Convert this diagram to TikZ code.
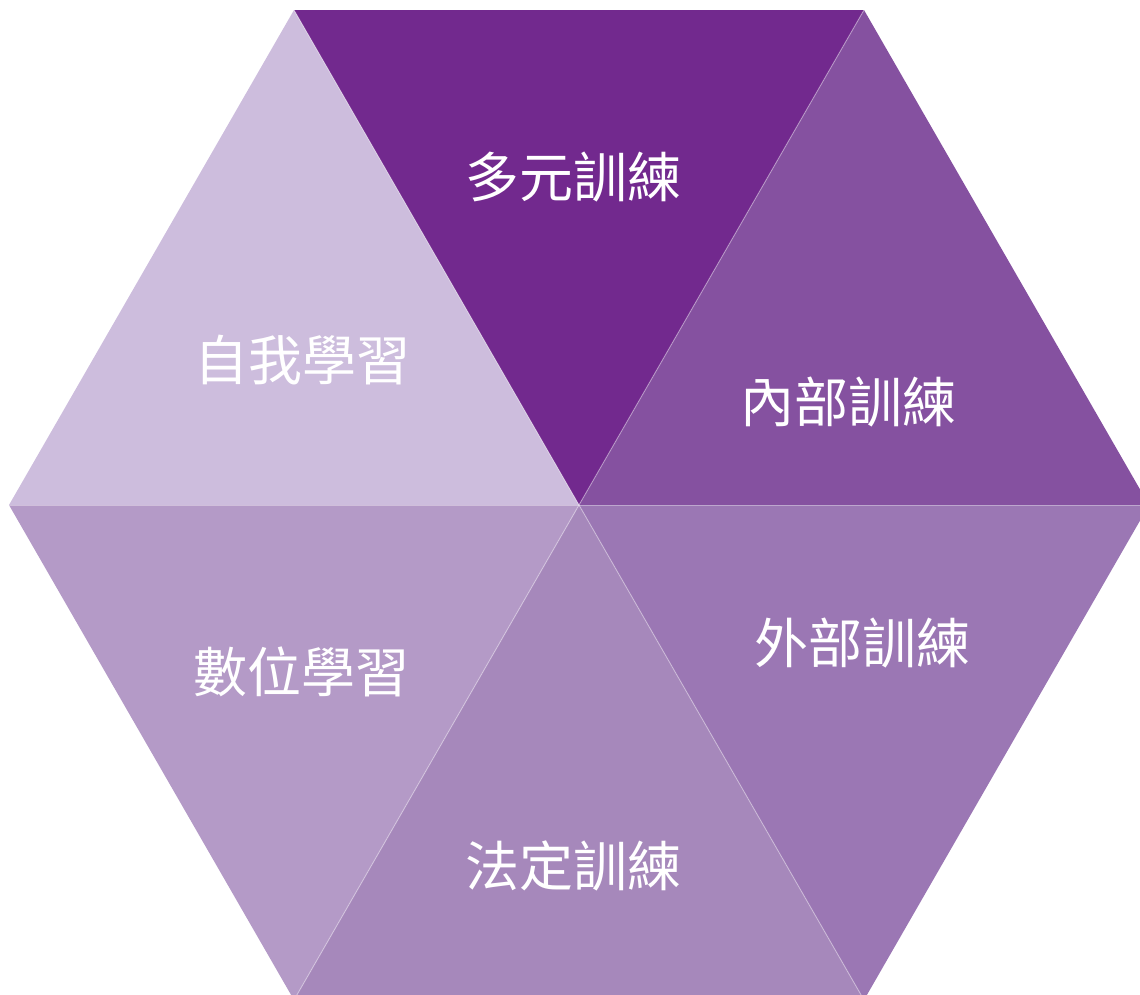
\documentclass[tikz,border=0pt]{standalone}
\usepackage{fontspec}
\newfontfamily\cjk{Noto Sans CJK TC}
\definecolor{cA}{HTML}{72298E}
\definecolor{cB}{HTML}{8551A0}
\definecolor{cC}{HTML}{9B77B4}
\definecolor{cD}{HTML}{A688BB}
\definecolor{cE}{HTML}{B49AC7}
\definecolor{cF}{HTML}{CDBDDD}
\begin{document}
\begin{tikzpicture}[x=1pt,y=-1pt,
  lbl/.style={text=white,font=\cjk\fontsize{54}{60}\selectfont,inner sep=0pt},
  seam/.style={draw=white,draw opacity=0.35,line width=1pt}]
\useasboundingbox (0,0) rectangle (1140,994);
\clip (0,0) rectangle (1140,994);
\coordinate (O) at (579,505);
\coordinate (P1) at (294,10);
\coordinate (P2) at (864,10);
\coordinate (P3) at (1149,505);
\coordinate (P4) at (864,1000);
\coordinate (P5) at (294,1000);
\coordinate (P6) at (9,505);
\fill[cA] (O) -- (P1) -- (P2) -- cycle;
\fill[cB] (O) -- (P2) -- (P3) -- cycle;
\fill[cC] (O) -- (P3) -- (P4) -- cycle;
\fill[cD] (O) -- (P4) -- (P5) -- cycle;
\fill[cE] (O) -- (P5) -- (P6) -- cycle;
\fill[cF] (O) -- (P6) -- (P1) -- cycle;
\foreach \p in {P1,P2,P3,P4,P5,P6} \draw[seam] (O) -- (\p);
\node[lbl] (t1) at (573,177) {多元訓練};
\node[lbl] (t2) at (848,402) {內部訓練};
\node[lbl] (t3) at (862,643) {外部訓練};
\node[lbl] (t4) at (573,866) {法定訓練};
\node[lbl] (t5) at (301,672) {數位學習};
\node[lbl] (t6) at (302,360) {自我學習};
\end{tikzpicture}
\end{document}
